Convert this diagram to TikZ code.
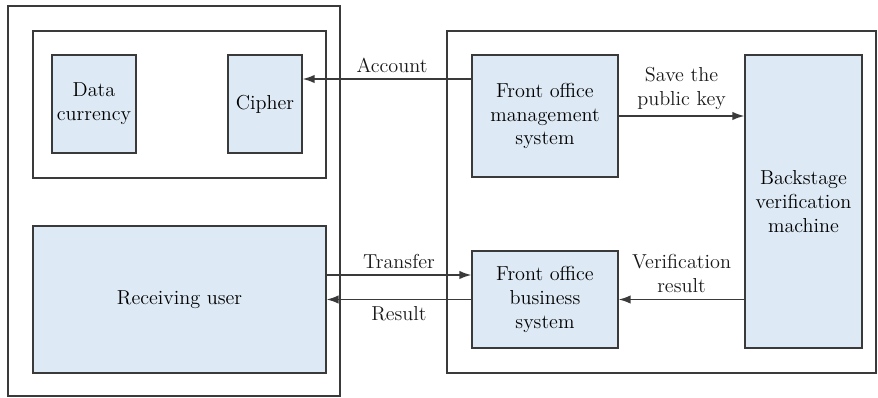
\documentclass[tikz,border=0pt]{standalone}
\usetikzlibrary{arrows.meta}
\definecolor{boxfill}{HTML}{DDE9F4}
\definecolor{edge}{HTML}{3A3A3A}
\begin{document}
\begin{tikzpicture}[
    x=0.02cm, y=-0.02cm,
    unit/.style={rectangle, draw=edge, fill=boxfill, line width=0.8pt, align=center, inner sep=2pt, font=\fontsize{11.5}{13.6}\selectfont},
    frame/.style={draw=edge, line width=0.8pt},
    arr/.style={draw=edge, line width=0.8pt, -{Latex[length=2.4mm, width=1.7mm]}},
    lbl/.style={font=\fontsize{11.5}{13.6}\selectfont, align=center, text=black!90}
]
    \useasboundingbox (0,0) rectangle (878,398);
    \draw[frame] (8,6) rectangle (340,396);
    \draw[frame] (33,31) rectangle (326,178);
    \draw[frame] (447,31) rectangle (876,373);

    \node[unit, minimum width=1.68cm, minimum height=1.96cm] (datacur) at (94,104) {Data\\currency};
    \node[unit, minimum width=1.48cm, minimum height=1.96cm] (cipher) at (265,104) {Cipher};
    \node[unit, minimum width=5.86cm, minimum height=2.94cm] (recv) at (179.5,299.5) {Receiving user};
    \node[unit, minimum width=2.92cm, minimum height=2.44cm] (mgmt) at (545,116) {Front office\\management\\system};
    \node[unit, minimum width=2.92cm, minimum height=1.94cm] (biz) at (545,299.5) {Front office\\business\\system};
    \node[unit, minimum width=2.34cm, minimum height=5.86cm] (backst) at (803.5,201.5) {Backstage\\verification\\machine};

    \draw[arr] (mgmt.west |- 0,79) -- node[lbl, above, xshift=0.1cm] {Account} (cipher.east |- 0,79);
    \draw[arr] (mgmt.east) -- node[lbl, above] {Save the\\public key} (mgmt.east -| backst.west);
    \draw[arr] (biz.east -| backst.west) -- node[lbl, above] {Verification\\result} (biz.east);
    \draw[arr] (recv.east |- 0,275) -- node[lbl, above] {Transfer} (biz.west |- 0,275);
    \draw[arr] (biz.west) -- node[lbl, below] {Result} (biz.west -| recv.east);
\end{tikzpicture}
\end{document}
